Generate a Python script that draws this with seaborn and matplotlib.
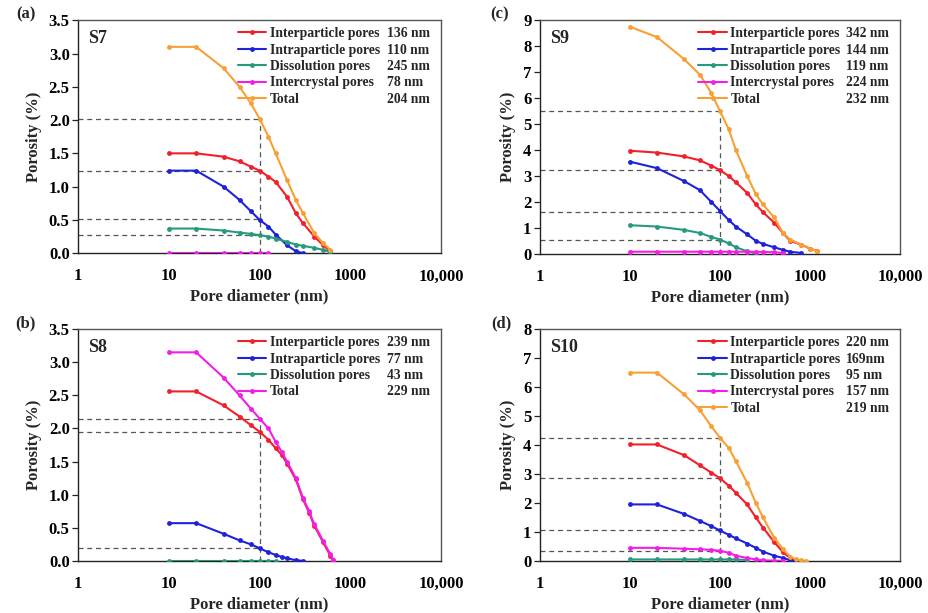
import numpy as np
import pandas as pd
import matplotlib
matplotlib.use("Agg")
import matplotlib.pyplot as plt
import seaborn as sns
from matplotlib.ticker import FixedLocator, LogLocator, NullFormatter

sns.set_theme(style="white")
plt.rcParams['font.family'] = ['Liberation Serif', 'DejaVu Serif']
plt.rcParams['font.weight'] = 'bold'

series_names = ["Interparticle pores", "Intraparticle pores", "Dissolution pores",
                "Intercrystal pores", "Total"]
colors = {"Interparticle pores": "#f2202a", "Intraparticle pores": "#1f22d8",
          "Dissolution pores": "#279a7e", "Intercrystal pores": "#f21ee8",
          "Total": "#f7a035"}

# ---- S7 (a) ----
s7_x = [10, 20, 40, 60, 80, 100, 125, 150, 200, 250, 300, 400, 500, 600]
s7_inter = [1.50, 1.50, 1.45, 1.38, 1.30, 1.24, 1.15, 1.07, 0.85, 0.60, 0.45, 0.25, 0.12, 0.03]
s7_intra = [1.24, 1.24, 1.00, 0.80, 0.63, 0.50, 0.40, 0.28, 0.12, 0.03, 0.0]
s7_diss = [0.37, 0.37, 0.34, 0.31, 0.29, 0.27, 0.25, 0.22, 0.17, 0.13, 0.11, 0.08, 0.05, 0.02]
s7_cryst = [0.01, 0.01, 0.01, 0.01, 0.01, 0.01, 0.01]
s7_total = [3.10, 3.10, 2.78, 2.50, 2.25, 2.02, 1.75, 1.50, 1.10, 0.80, 0.60, 0.30, 0.15, 0.05]
s7_values = ["136 nm", "110 nm", "245 nm", "78 nm", "204 nm"]
s7_refs = [2.02, 1.24, 0.51, 0.27]

# ---- S8 (b) ----
s8_x = [10, 20, 40, 60, 80, 100, 125, 150, 175, 200, 250, 300, 350, 400, 500, 600, 650]
s8_inter = [2.56, 2.56, 2.35, 2.18, 2.05, 1.95, 1.83, 1.70, 1.60, 1.47, 1.23, 0.93, 0.73, 0.53, 0.28, 0.08, 0.01]
s8_intra = [0.57, 0.57, 0.41, 0.31, 0.25, 0.19, 0.13, 0.09, 0.06, 0.04, 0.01, 0.0]
s8_diss = [0.0, 0.0, 0.0, 0.0, 0.0, 0.0, 0.0, 0.0]
s8_total = [3.15, 3.15, 2.77, 2.50, 2.30, 2.15, 2.00, 1.80, 1.65, 1.50, 1.25, 0.95, 0.75, 0.55, 0.30, 0.10, 0.02]
s8_values = ["239 nm", "77 nm", "43 nm", "229 nm"]
s8_refs = [2.14, 1.95, 0.19]

# ---- S9 (c) ----
s9_x = [10, 20, 40, 60, 80, 100, 125, 150, 200, 250, 300, 400, 500, 600, 800, 1000, 1200]
s9_inter = [3.97, 3.90, 3.75, 3.60, 3.40, 3.22, 3.00, 2.75, 2.35, 1.90, 1.60, 1.20, 0.80, 0.50, 0.35, 0.20, 0.10]
s9_intra = [3.55, 3.30, 2.80, 2.45, 2.00, 1.65, 1.30, 1.05, 0.75, 0.50, 0.38, 0.25, 0.15, 0.08, 0.03]
s9_diss = [1.10, 1.05, 0.92, 0.80, 0.65, 0.55, 0.40, 0.25, 0.10, 0.02]
s9_cryst = [0.08, 0.08, 0.08, 0.08, 0.08, 0.08, 0.08, 0.08, 0.08, 0.08, 0.07, 0.06, 0.03]
s9_total = [8.75, 8.35, 7.50, 6.90, 6.20, 5.50, 4.80, 4.00, 3.00, 2.30, 1.90, 1.40, 0.80, 0.55, 0.35, 0.20, 0.10]
s9_values = ["342 nm", "144 nm", "119 nm", "224 nm", "232 nm"]
s9_refs = [5.50, 3.22, 1.62, 0.55]

# ---- S10 (d) ----
s10_x = [10, 20, 40, 60, 80, 100, 125, 150, 200, 250, 300, 400, 500, 600, 700, 800, 900]
s10_inter = [4.02, 4.02, 3.65, 3.30, 3.05, 2.85, 2.60, 2.35, 1.95, 1.50, 1.15, 0.65, 0.30, 0.10, 0.02]
s10_intra = [1.95, 1.95, 1.62, 1.38, 1.20, 1.05, 0.90, 0.78, 0.60, 0.45, 0.32, 0.18, 0.10, 0.03, 0.0]
s10_diss = [0.05, 0.05, 0.05, 0.05, 0.05, 0.05, 0.05, 0.05, 0.03]
s10_cryst = [0.45, 0.45, 0.42, 0.40, 0.38, 0.35, 0.28, 0.18, 0.10, 0.05, 0.02, 0.01, 0.0]
s10_total = [6.50, 6.50, 5.75, 5.20, 4.65, 4.25, 3.90, 3.45, 2.70, 2.00, 1.50, 0.80, 0.40, 0.15, 0.05, 0.02, 0.0]
s10_values = ["220 nm", "169nm", "95 nm", "157 nm", "219 nm"]
s10_refs = [4.25, 2.85, 1.05, 0.35]

x_ticks = [1, 10, 100, 1000, 10000]
x_tick_labels = ["1", "10", "100", "1000", "10,000"]

panels = [
    dict(tag="(a)", tagx=-0.118, name="S7", x=s7_x, ymax=3.5, ystep=0.5, fmt="{:.1f}",
         series=[("Interparticle pores", s7_inter), ("Intraparticle pores", s7_intra),
                 ("Dissolution pores", s7_diss), ("Intercrystal pores", s7_cryst),
                 ("Total", s7_total)], values=s7_values, refs=s7_refs,
         pos=[0.084, 0.587, 0.391, 0.380]),
    dict(tag="(c)", tagx=-0.086, name="S9", x=s9_x, ymax=9, ystep=1, fmt="{:.0f}",
         series=[("Interparticle pores", s9_inter), ("Intraparticle pores", s9_intra),
                 ("Dissolution pores", s9_diss), ("Intercrystal pores", s9_cryst),
                 ("Total", s9_total)], values=s9_values, refs=s9_refs,
         pos=[0.581, 0.586, 0.388, 0.381]),
    dict(tag="(b)", tagx=-0.118, name="S8", x=s8_x, ymax=3.5, ystep=0.5, fmt="{:.1f}",
         series=[("Interparticle pores", s8_inter), ("Intraparticle pores", s8_intra),
                 ("Dissolution pores", s8_diss), ("Total", s8_total)],
         values=s8_values, refs=s8_refs, total_color="#f21ee8",
         pos=[0.084, 0.085, 0.391, 0.378]),
    dict(tag="(d)", tagx=-0.078, name="S10", x=s10_x, ymax=8, ystep=1, fmt="{:.0f}",
         series=[("Interparticle pores", s10_inter), ("Intraparticle pores", s10_intra),
                 ("Dissolution pores", s10_diss), ("Intercrystal pores", s10_cryst),
                 ("Total", s10_total)], values=s10_values, refs=s10_refs,
         pos=[0.581, 0.085, 0.388, 0.378]),
]

fig = plt.figure(figsize=(9.29, 6.13), dpi=100)
fs = 12
lfs = 9.8

legends = []
for p in panels:
    ax = fig.add_axes(p["pos"])
    rows = []
    for nm, ys in p["series"]:
        xs = p["x"][:len(ys)]
        for xv, yv in zip(xs, ys):
            rows.append(dict(d=xv, phi=yv, s=nm))
    df = pd.DataFrame(rows)
    pal = dict(colors)
    if "total_color" in p:
        pal["Total"] = p["total_color"]
    order = [nm for nm, _ in p["series"]]
    # reference dashed lines
    for r in p["refs"]:
        ax.plot([1, 100], [r, r], ls=(0, (4, 3)), color="#555555", lw=0.9, zorder=1)
    ax.plot([100, 100], [0, max(p["refs"])], ls=(0, (4, 3)), color="#555555", lw=0.9, zorder=1)
    sns.lineplot(data=df, x="d", y="phi", hue="s", hue_order=order, palette=pal,
                 marker="o", markersize=3.5, markeredgewidth=0, linewidth=1.5,
                 ax=ax, legend=True, zorder=3)
    ax.set_xscale("log")
    ax.set_xlim(1, 10000)
    ax.set_ylim(0, p["ymax"])
    yt = np.arange(0, p["ymax"] + 1e-9, p["ystep"])
    ax.set_yticks(yt)
    ax.set_yticklabels([p["fmt"].format(v) for v in yt], fontsize=fs, fontweight="bold")
    ax.xaxis.set_major_locator(FixedLocator(x_ticks))
    ax.set_xticklabels(x_tick_labels, fontsize=fs, fontweight="bold")
    ax.xaxis.set_minor_locator(LogLocator(base=10, subs=np.arange(2, 10)))
    ax.xaxis.set_minor_formatter(NullFormatter())
    ax.tick_params(axis="x", which="major", direction="in", length=5, width=0.9,
                   colors="#222222", labelcolor="black", pad=11)
    ax.tick_params(axis="x", which="minor", direction="in", length=3, width=0.7,
                   colors="#222222")
    ax.tick_params(axis="y", which="major", direction="out", length=4, width=0.9,
                   left=True, colors="#222222", labelcolor="black", pad=2)
    for sp in ax.spines.values():
        sp.set_color("#555555")
        sp.set_linewidth(1.0)
    ax.spines["bottom"].set_color("#222222")
    ax.spines["left"].set_color("#222222")
    ax.set_xlabel("Pore diameter (nm)", fontsize=fs, fontweight="bold", labelpad=3)
    ax.set_ylabel("Porosity (%)", fontsize=fs, fontweight="bold", labelpad=5)
    ax.text(0.028, 0.92, p["name"], transform=ax.transAxes, fontsize=fs + 1,
            fontweight="bold", va="center", ha="left")
    ax.text(p["tagx"], 1.025, p["tag"], transform=ax.transAxes, fontsize=fs,
            fontweight="bold", va="center", ha="right")
    leg = ax.legend(loc="upper left", bbox_to_anchor=(0.44, 0.97), frameon=False,
                    fontsize=lfs, handlelength=2.1, handletextpad=0.25,
                    labelspacing=0.25, borderaxespad=0, borderpad=0)
    for t in leg.get_texts():
        t.set_fontweight("bold")
    legends.append((ax, leg, p["values"]))

fig.canvas.draw()
for ax, leg, vals in legends:
    inv = ax.transAxes.inverted()
    for t, v in zip(leg.get_texts(), vals):
        bb = t.get_window_extent()
        cy = (bb.y0 + bb.y1) / 2
        _, ya = inv.transform((0, cy))
        ax.text(0.85, ya, v, transform=ax.transAxes, fontsize=lfs,
                fontweight="bold", va="center", ha="left")

fig.savefig("out.png", dpi=100, facecolor="white")
